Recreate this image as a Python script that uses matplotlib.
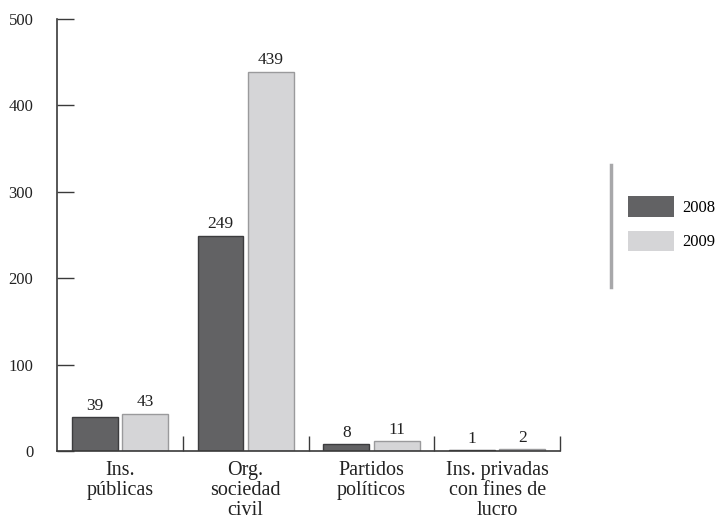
#!/usr/bin/env python3

import numpy as np
import matplotlib.pyplot as plt
from matplotlib.patches import Patch
from matplotlib.lines import Line2D

plt.rcParams["font.family"] = "Liberation Serif"
plt.rcParams["font.size"] = 12

categories = ["Ins.\npúblicas", "Org.\nsociedad\ncivil", "Partidos\npolíticos",
              "Ins. privadas\ncon fines de\nlucro"]
years = ["2008", "2009"]
v2008 = [39, 249, 8, 1]
v2009 = [43, 439, 11, 2]
yticks = [0, 100, 200, 300, 400, 500]

dark = "#626264"
light = "#d5d5d7"
axis_col = "#3a3a3a"

fig = plt.figure(figsize=(7.26, 5.28), dpi=100)
ax = fig.add_axes([0.0785, 0.146, 0.693, 0.818])

x = np.arange(len(categories))
w = 0.365
off = 0.2
b1 = ax.bar(x - off, v2008, w, color=dark, edgecolor="#3c3c3e", linewidth=1)
b2 = ax.bar(x + off, v2009, w, color=light, edgecolor="#9a9a9c", linewidth=1)

for bars, vals in ((b1, v2008), (b2, v2009)):
    for rect, v in zip(bars, vals):
        ax.text(rect.get_x() + rect.get_width() / 2, v + 4, str(v),
                ha="center", va="bottom", fontsize=12.5, color="#222222")

ax.set_xlim(-0.5, 3.5)
ax.set_ylim(0, 500)
ax.set_yticks(yticks)
ax.set_yticklabels([str(t) for t in yticks])
ax.set_xticks(x)
ax.set_xticklabels(categories, fontsize=14.5, linespacing=1.1)
ax.set_xticks([0.5, 1.5, 2.5, 3.5], minor=True)

ax.tick_params(axis="x", which="major", length=0, pad=7, colors="#222222")
ax.tick_params(axis="x", which="minor", direction="in", length=11,
               width=1, color=axis_col)
ax.tick_params(axis="y", direction="in", length=12, width=1,
               color=axis_col, labelsize=12, pad=17, labelcolor="#222222")

for s in ("top", "right"):
    ax.spines[s].set_visible(False)
for s in ("left", "bottom"):
    ax.spines[s].set_color(axis_col)
    ax.spines[s].set_linewidth(1.2)

# legend with a gray bar on its left
fig.add_artist(Line2D([611 / 726, 611 / 726], [1 - 165 / 528, 1 - 287 / 528],
                      color="#a8a8aa", linewidth=2.5, transform=fig.transFigure))
handles = [Patch(facecolor=dark, edgecolor="none"),
           Patch(facecolor=light, edgecolor="none")]
fig.legend(handles, years, loc="center left", bbox_to_anchor=(0.845, 0.576),
           frameon=False, handlelength=2.75, handleheight=1.55,
           handletextpad=0.5, labelspacing=0.8, fontsize=12)

fig.savefig("out.png", dpi=100)
